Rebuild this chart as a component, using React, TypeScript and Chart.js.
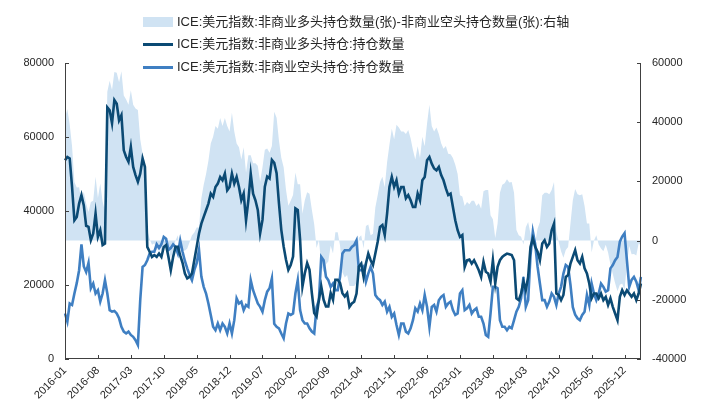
import React, { useEffect, useRef } from 'react';
import { Chart, registerables } from 'chart.js';

Chart.register(...registerables);

// Semi-monthly observation dates, 2016-01 .. 2026-03
const categories: string[] = [];
for (let m = 0; m < 123; m++) {
  const yr = 2016 + Math.floor(m / 12);
  const mm = String((m % 12) + 1).padStart(2, '0');
  categories.push(`${yr}-${mm}-01`, `${yr}-${mm}-16`);
}

const tickLabels = [
  '2016-01', '2016-08', '2017-03', '2017-10', '2018-05', '2018-12', '2019-07', '2020-02', '2020-09',
  '2021-04', '2021-11', '2022-06', '2023-01', '2023-08', '2024-03', '2024-10', '2025-05', '2025-12',
];

const seriesNames = [
  'ICE:美元指数:非商业多头持仓数量(张)-非商业空头持仓数量(张):右轴',
  'ICE:美元指数:非商业多头持仓:持仓数量',
  'ICE:美元指数:非商业空头持仓:持仓数量',
];

// Non-commercial long positions (contracts)
const longPositions = [
  53700, 54600, 54200, 46500, 37500, 38400, 42000, 44300, 41500, 36000,
  35700, 32100, 33900, 39300, 33000, 34800, 30800, 31200, 68000, 67200,
  63700, 70000, 69000, 64500, 65900, 56400, 54600, 53300, 57300, 51900,
  49700, 47900, 50100, 54200, 51900, 30300, 29000, 27600, 28100, 27600,
  28500, 27600, 30300, 30800, 27600, 24000, 27600, 30300, 30300, 28000,
  26000, 23100, 21800, 22200, 23100, 26700, 30300, 33900, 36600, 38400,
  40200, 42000, 44700, 43800, 46500, 47400, 49200, 48300, 50100, 45600,
  46500, 50100, 47400, 49200, 46500, 42900, 44700, 37500, 42900, 50100,
  44700, 42900, 40300, 34000, 37600, 46600, 49300, 48800, 53800, 53000,
  50200, 42100, 34900, 30400, 26800, 24100, 25400, 27700, 40700, 40300,
  32200, 19600, 23200, 25900, 24100, 17800, 12400, 11500, 16000, 19600,
  16000, 14200, 14200, 17800, 16000, 21400, 21400, 20500, 17800, 16900,
  17800, 14100, 15000, 15500, 17700, 25000, 25800, 22200, 25800, 28500,
  26700, 25400, 28500, 31700, 35700, 36200, 33500, 39300, 46500, 49200,
  46500, 48300, 44700, 46500, 46500, 43400, 44300, 42900, 41100, 41100,
  44700, 42900, 48300, 49200, 53700, 54600, 52800, 51500, 51000, 51900,
  49700, 48300, 46100, 44300, 44700, 41100, 37500, 34800, 33000, 33500,
  24900, 26700, 26900, 25800, 26700, 25400, 24000, 22200, 26300, 23600,
  23100, 20900, 26700, 20400, 24900, 26700, 27600, 28100, 28500, 28300,
  28100, 26700, 16400, 15900, 17700, 20900, 18600, 22200, 30300, 32600,
  30300, 29000, 26700, 31200, 32100, 30300, 31200, 34800, 36600, 17700,
  17300, 15900, 17300, 22200, 22700, 25800, 27600, 29400, 26700, 25800,
  27600, 24500, 23100, 20400, 16400, 17700, 17700, 16400, 17700, 15900,
  16800, 14600, 16400, 14100, 12300, 10500, 16800, 18600, 17300, 18600,
  17700, 16800, 17700, 15900, 17700, 20400,
];

// Non-commercial short positions (contracts)
const shortPositions = [
  12300, 10100, 15000, 14600, 17700, 20500, 24000, 31000, 25000, 23500,
  26000, 19100, 20400, 17700, 18600, 15500, 17700, 21300, 17700, 13200,
  12800, 13000, 12300, 11000, 8700, 7400, 6900, 7400, 6500, 6000,
  5100, 3800, 15900, 24900, 25400, 26700, 28500, 29000, 29000, 31000,
  30000, 31000, 33000, 32500, 29500, 30000, 31000, 30300, 28500, 32000,
  29000, 26500, 24500, 22700, 21300, 24000, 25900, 29500, 22300, 19500,
  17700, 15000, 11900, 8700, 7800, 9600, 7800, 9600, 8700, 6900,
  9600, 6900, 10500, 16400, 15000, 15500, 13200, 14600, 14100, 21300,
  18600, 16800, 15000, 14100, 12800, 15900, 18200, 19100, 21800, 9500,
  8700, 8300, 6900, 5600, 9600, 12300, 11900, 12300, 17700, 21300,
  13200, 10500, 9600, 9600, 8300, 7400, 6900, 14000, 15900, 27600,
  26700, 22200, 21300, 19500, 20400, 18600, 18600, 22200, 28500, 29400,
  29400, 29400, 30300, 30800, 32100, 24000, 24000, 24900, 20900, 23100,
  24900, 23100, 17300, 16400, 15900, 14600, 15500, 12800, 14100, 11400,
  12300, 9200, 6500, 9600, 9600, 7400, 6900, 8300, 10500, 13700,
  12800, 15000, 13200, 17300, 14100, 8700, 14100, 14600, 12800, 15900,
  16800, 17300, 14100, 15000, 15500, 13200, 11900, 12300, 17700, 18600,
  13200, 13700, 14600, 12300, 13200, 13700, 11400, 11400, 9600, 6500,
  6000, 12300, 19500, 19500, 19100, 10500, 8700, 8700, 7800, 8700,
  8300, 10500, 12800, 14100, 16400, 22200, 14100, 15900, 28000, 34400,
  31000, 25000, 20400, 15900, 15900, 14100, 15500, 17700, 16800, 14600,
  17700, 19500, 23100, 25400, 24900, 20000, 14000, 12000, 11000, 10500,
  11900, 12800, 17300, 14600, 20400, 17700, 15900, 17700, 20400, 19500,
  18200, 18600, 24500, 25400, 26700, 27600, 31700, 33100, 34000, 26700,
  19500, 21400, 22200, 20900, 18600, 22200,
];

// Net = long - short (right axis)
const netPositions = longPositions.map((v, i) => v - shortPositions[i]);

const leftTicks = [0, 20000, 40000, 60000, 80000];
const rightTicks = [-40000, -20000, 0, 20000, 40000, 60000];

const DARK = '#0b4a74';
const LIGHT = '#3f7fc2';
const AREA = '#d0e3f3';
const AXIS = '#404040';
const TEXT = '#262626';
const FONT = "Arial, 'Liberation Sans', sans-serif";
const LEGEND_FONT = "13px Arial, 'Liberation Sans', 'Noto Sans CJK SC', sans-serif";

const axisPlugin = {
  id: 'axisLines',
  afterDatasetsDraw(chart: any) {
    const { ctx, chartArea } = chart;
    const { left, right, top, bottom } = chartArea;
    ctx.save();
    ctx.strokeStyle = AXIS;
    ctx.lineWidth = 1;
    ctx.beginPath();
    ctx.moveTo(left + 0.5, top);
    ctx.lineTo(left + 0.5, bottom);
    ctx.moveTo(right - 0.5, top);
    ctx.lineTo(right - 0.5, bottom);
    ctx.moveTo(left, bottom - 0.5);
    ctx.lineTo(right, bottom - 0.5);
    const ys = chart.scales.y;
    leftTicks.forEach((v) => {
      const py = Math.round(ys.getPixelForValue(v)) + 0.5;
      ctx.moveTo(left, py);
      ctx.lineTo(left + 4, py);
    });
    const y1 = chart.scales.y1;
    rightTicks.forEach((v) => {
      const py = Math.round(y1.getPixelForValue(v)) + 0.5;
      ctx.moveTo(right, py);
      ctx.lineTo(right - 4, py);
    });
    const xs = chart.scales.x;
    categories.forEach((c, i) => {
      if (c.endsWith('-01') && tickLabels.includes(c.slice(0, 7))) {
        const px = Math.round(xs.getPixelForValue(i)) + 0.5;
        ctx.moveTo(px, bottom);
        ctx.lineTo(px, bottom - 4);
      }
    });
    ctx.stroke();
    ctx.restore();
  },
};

const legendPlugin = {
  id: 'customLegend',
  afterDraw(chart: any) {
    const { ctx } = chart;
    ctx.save();
    const sx = 143;
    const sw = 30;
    const tx = 177;
    const rows = [22, 44.5, 67.5];
    ctx.fillStyle = AREA;
    ctx.fillRect(sx, rows[0] - 5, sw, 10);
    ctx.lineWidth = 3;
    ctx.strokeStyle = DARK;
    ctx.beginPath();
    ctx.moveTo(sx, rows[1]);
    ctx.lineTo(sx + sw, rows[1]);
    ctx.stroke();
    ctx.strokeStyle = LIGHT;
    ctx.beginPath();
    ctx.moveTo(sx, rows[2]);
    ctx.lineTo(sx + sw, rows[2]);
    ctx.stroke();
    ctx.font = LEGEND_FONT;
    ctx.fillStyle = TEXT;
    ctx.textBaseline = 'middle';
    ctx.textAlign = 'left';
    seriesNames.forEach((n, i) => ctx.fillText(n, tx, rows[i]));
    ctx.restore();
  },
};

export default function App() {
  const canvasRef = useRef<HTMLCanvasElement | null>(null);

  useEffect(() => {
    const canvas = canvasRef.current;
    if (!canvas) return;
    const chart = new Chart(canvas, {
      type: 'line',
      data: {
        labels: categories,
        datasets: [
          {
            label: seriesNames[1],
            data: longPositions,
            yAxisID: 'y',
            borderColor: DARK,
            borderWidth: 2.6,
            pointRadius: 0,
            tension: 0,
            fill: false,
            order: 1,
          },
          {
            label: seriesNames[2],
            data: shortPositions,
            yAxisID: 'y',
            borderColor: LIGHT,
            borderWidth: 2.6,
            pointRadius: 0,
            tension: 0,
            fill: false,
            order: 2,
          },
          {
            label: seriesNames[0],
            data: netPositions,
            yAxisID: 'y1',
            borderColor: 'rgba(0,0,0,0)',
            borderWidth: 0,
            backgroundColor: AREA,
            pointRadius: 0,
            tension: 0,
            fill: 'origin',
            order: 3,
          },
        ],
      },
      options: {
        responsive: false,
        animation: false,
        events: [],
        layout: { padding: { top: 63, left: 0, right: 0, bottom: 0 } },
        plugins: { legend: { display: false }, tooltip: { enabled: false } },
        scales: {
          x: {
            type: 'category',
            grid: { display: false, drawTicks: false },
            border: { display: false },
            ticks: {
              autoSkip: false,
              minRotation: 45,
              maxRotation: 45,
              padding: 5,
              color: TEXT,
              font: { family: FONT, size: 11 },
              callback: (_v: any, i: number) => {
                const c = categories[i];
                return c.endsWith('-01') && tickLabels.includes(c.slice(0, 7)) ? c.slice(0, 7) : null;
              },
            },
            afterFit: (s: any) => {
              s.height = 44;
            },
          },
          y: {
            position: 'left',
            min: 0,
            max: 80000,
            grid: { display: false, drawTicks: false },
            border: { display: false },
            ticks: {
              stepSize: 20000,
              padding: 11,
              color: TEXT,
              font: { family: FONT, size: 11 },
              callback: (v: any) => String(v),
            },
            afterFit: (s: any) => {
              s.width = 65;
            },
          },
          y1: {
            position: 'right',
            min: -40000,
            max: 60000,
            grid: { display: false, drawTicks: false },
            border: { display: false },
            ticks: {
              stepSize: 20000,
              padding: 11,
              color: TEXT,
              font: { family: FONT, size: 11 },
              callback: (v: any) => String(v),
            },
            afterFit: (s: any) => {
              s.width = 66;
            },
          },
        },
      },
      plugins: [axisPlugin, legendPlugin],
    } as any);
    return () => chart.destroy();
  }, []);

  return (
    <div style={{ position: 'fixed', left: 0, top: 0, width: 707, height: 403, background: '#fff' }}>
      <canvas ref={canvasRef} width={707} height={403} style={{ display: 'block', width: 707, height: 403 }} />
    </div>
  );
}
